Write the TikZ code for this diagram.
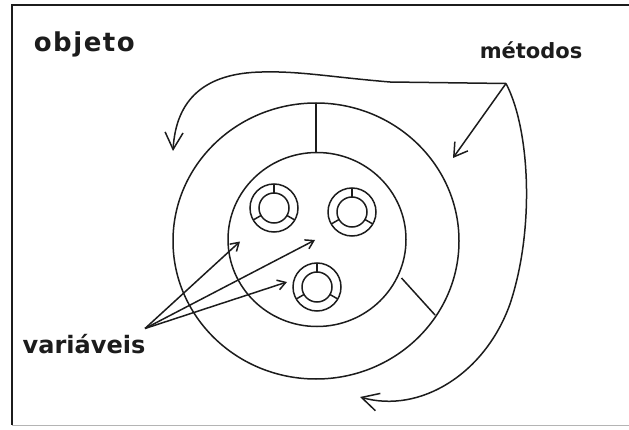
\documentclass[tikz,border=0pt]{standalone}
\usepackage{fontspec}
\setmainfont{DejaVu Sans}
\usetikzlibrary{arrows.meta,calc}
\definecolor{ink}{HTML}{1C1C1C}
\definecolor{rim}{HTML}{B4B4B4}
\tikzset{
 lbl/.style={inner sep=0pt,anchor=base west,text=ink},
 tipbig/.style={-{Straight Barb[length=17pt,width=18pt]}},
 tipmid/.style={-{Straight Barb[length=13pt,width=16pt]}},
 tipsmall/.style={-{Straight Barb[length=8pt,width=10pt]}}
}
\begin{document}
\begin{tikzpicture}[x=1pt,y=1pt,line width=1.5pt,draw=ink]
 \useasboundingbox(0,0)rectangle(629,429);
 \draw[line width=2.4pt](629,424)--(12,424);
 \draw[line width=1.6pt](12,424.5)--(12,4);
 \draw[rim,line width=1pt](12,4)--(629,4);
 \coordinate(core)at(317,189.5);
 \draw(316,188)ellipse[x radius=143,y radius=138];
 \draw(core)ellipse[x radius=89,y radius=87];
 \draw(316,326)--(316,276.5);
 \draw(401.5,151)--(435,114);
 \coordinate(vA)at(274,221);\coordinate(vB)at(352,217);\coordinate(vC)at(317,142);
 \foreach \v in {vA,vB,vC}{
  \draw(\v)circle(24)(\v)circle(15);
  \foreach \t in {90,210,330}\draw($(\v)+(\t:15)$)--($(\v)+(\t:24)$);
 }
 \node[lbl,font=\bfseries\fontsize{26}{30}\selectfont\addfontfeature{LetterSpace=6}](obj)at(33,377){objeto};
 \node[lbl,font=\bfseries\fontsize{21}{25}\selectfont](met)at(479,370){métodos};
 \node[lbl,font=\bfseries\fontsize{24}{28}\selectfont](var)at(22,75.7){variáveis};
 \coordinate(vsrc)at(145,100.5);
 \coordinate(vtA)at(240,187.5);\coordinate(vtB)at(315,189);\coordinate(vtC)at(287,147);
 \foreach \e in {vtA,vtB,vtC}\draw[tipsmall](vsrc)--(\e);
 \coordinate(msrc)at(506,345.5);
 \coordinate(mtop)at(173,278);\coordinate(mring)at(453,271);\coordinate(mlow)at(360,32);
 \draw[tipmid](msrc)--(mring);
 \draw[tipbig](msrc)--(390,347)..controls(330,352)and(300,358)..(262,357)..controls(205,356)and(176,330)..(mtop);
 \draw[tipbig](msrc)..controls(530,300)and(535,200)..(510,125)..controls(485,55)and(420,15)..(mlow);
\end{tikzpicture}
\end{document}
